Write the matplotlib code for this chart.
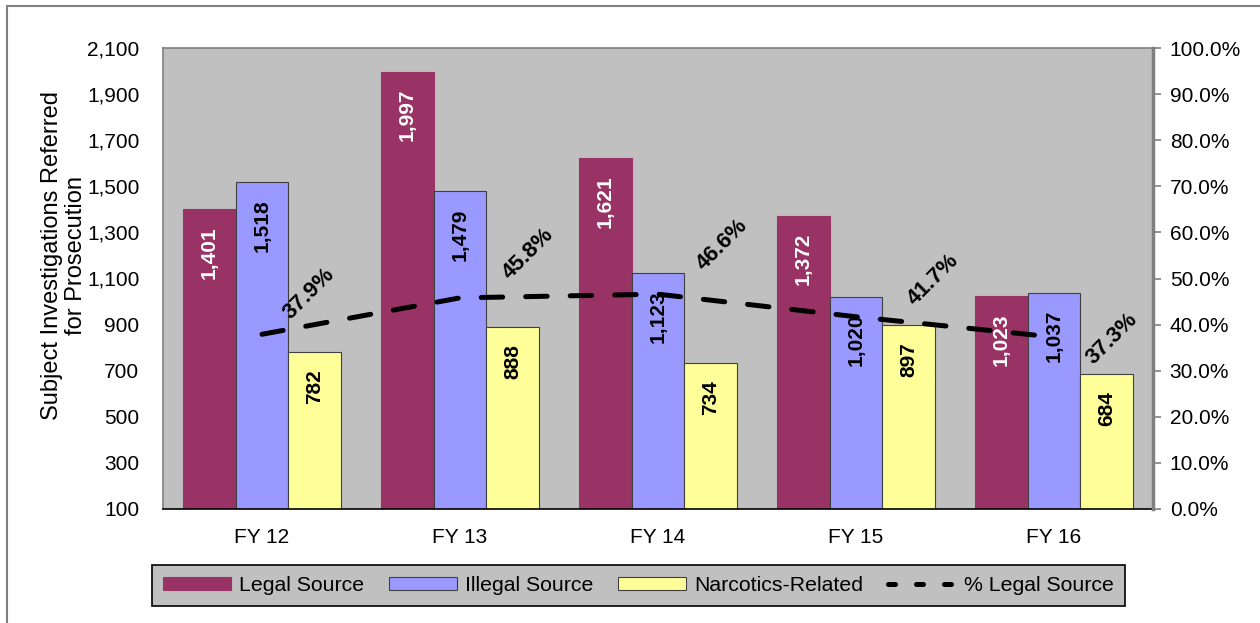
import numpy as np
import matplotlib
matplotlib.use("Agg")
import matplotlib.pyplot as plt
from matplotlib.patches import Rectangle
from matplotlib.lines import Line2D

plt.rcParams["font.family"] = ["Liberation Sans", "DejaVu Sans"]

years = ["FY 12", "FY 13", "FY 14", "FY 15", "FY 16"]
legal = [1401, 1997, 1621, 1372, 1023]
illegal = [1518, 1479, 1123, 1020, 1037]
narcotics = [782, 888, 734, 897, 684]
pct_legal = [37.9, 45.8, 46.6, 41.7, 37.3]

# label offsets (pixels) for the percentage labels
pct_offsets = [(47, 41), (68, 44), (64, 49), (77, 37), (58, -2)]

c_legal = "#993366"
c_illegal = "#9999FF"
c_narc = "#FFFF99"
plot_bg = "#C0C0C0"

fig = plt.figure(figsize=(12.6, 6.23), dpi=100)
fig.patches.append(Rectangle((7 / 1260, -0.1), 1.2, 1.1 - 6 / 623, transform=fig.transFigure,
                             fill=False, edgecolor="#808080", linewidth=1.5, zorder=0))

ax = fig.add_axes([163 / 1260, 1 - 509 / 623, 990 / 1260, 461 / 623])
ax.set_facecolor(plot_bg)

x = np.arange(len(years))
w = 0.267
b1 = ax.bar(x - w, legal, w, color=c_legal, edgecolor=c_legal, linewidth=0.8, label="Legal Source")
b2 = ax.bar(x, illegal, w, color=c_illegal, edgecolor="#404040", linewidth=0.8, label="Illegal Source")
b3 = ax.bar(x + w, narcotics, w, color=c_narc, edgecolor="#404040", linewidth=0.8, label="Narcotics-Related")

for bars, vals, col in [(b1, legal, "white"), (b2, illegal, "black"), (b3, narcotics, "black")]:
    for rect, v in zip(bars, vals):
        ax.annotate(f"{v:,}", (rect.get_x() + rect.get_width() / 2, v),
                    xytext=(0, -17), textcoords="offset pixels",
                    ha="center", va="top", rotation=90,
                    fontsize=15, fontweight="bold", color=col)

ax.set_xlim(-0.5, len(years) - 0.5)
ax.set_ylim(100, 2100)
ax.set_yticks(np.arange(100, 2101, 200))
ax.set_yticklabels([f"{v:,}" for v in range(100, 2101, 200)])
ax.set_xticks(x)
ax.set_xticklabels(years)
ax.tick_params(axis="y", length=0, pad=17, labelsize=15)
ax.tick_params(axis="x", length=0, pad=14, labelsize=15)
ax.set_ylabel("Subject Investigations Referred\nfor Prosecution", fontsize=17, linespacing=1.1)
ax.yaxis.set_label_coords(-0.077, 0.55)

for s in ["top", "left"]:
    ax.spines[s].set_color("#808080")
    ax.spines[s].set_linewidth(1.2)
ax.spines["right"].set_visible(False)
ax.spines["bottom"].set_color("black")
ax.spines["bottom"].set_linewidth(1.2)

ax2 = ax.twinx()
ax2.plot(x, pct_legal, color="black", linewidth=3.6, dashes=(4.3, 4.6),
         dash_capstyle="round", solid_capstyle="round")
ax2.set_ylim(0, 100)
ax2.set_yticks(np.arange(0, 101, 10))
ax2.set_yticklabels([f"{v:.1f}%" for v in range(0, 101, 10)])
ax2.tick_params(axis="y", direction="out", length=6, width=1.2, color="#808080",
                pad=6, labelsize=15)
for s in ["top", "left", "bottom"]:
    ax2.spines[s].set_visible(False)
ax2.spines["right"].set_color("#808080")
ax2.spines["right"].set_linewidth(2.5)

for xi, p, (dx, dy) in zip(x, pct_legal, pct_offsets):
    ax2.annotate(f"{p:.1f}%", (xi, p), xytext=(dx, dy), textcoords="offset pixels",
                 ha="center", va="center", rotation=45, rotation_mode="anchor",
                 fontsize=16, fontweight="bold", color="black")

handles = [b1, b2, b3,
           Line2D([], [], color="black", linewidth=3.6, dashes=(1.4, 4.2), dash_capstyle="round")]
labels = ["Legal Source", "Illegal Source", "Narcotics-Related", "% Legal Source"]
leg = fig.legend(handles, labels, loc="center", bbox_to_anchor=(638.5 / 1260, 1 - 585.5 / 623),
                 ncol=4, fontsize=15.3, frameon=True, fancybox=False, framealpha=1,
                 facecolor=plot_bg, edgecolor="black", handlelength=3.2, handleheight=0.55,
                 handletextpad=0.4, columnspacing=1.15, borderpad=0.5)
leg.get_frame().set_linewidth(1.2)

fig.savefig("out.png", dpi=100)
